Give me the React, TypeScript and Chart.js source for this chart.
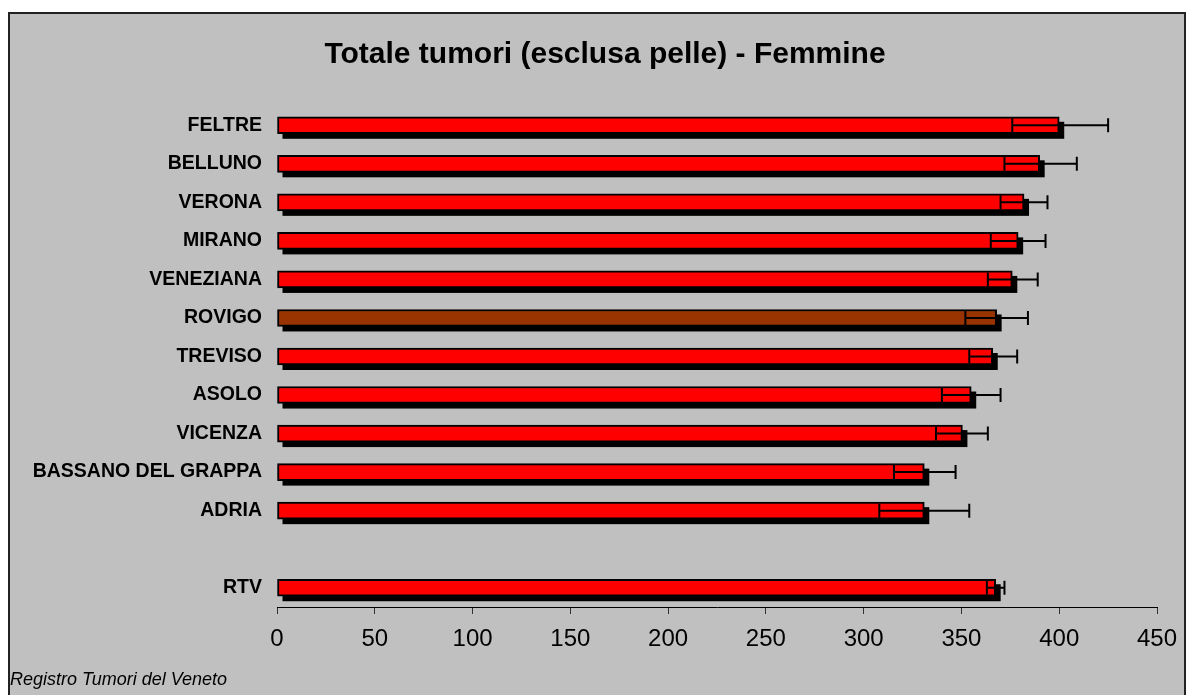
import React, { useEffect, useRef } from "react";
import { Chart, registerables } from "chart.js";

Chart.register(...registerables);

const categories = [
  "FELTRE",
  "BELLUNO",
  "VERONA",
  "MIRANO",
  "VENEZIANA",
  "ROVIGO",
  "TREVISO",
  "ASOLO",
  "VICENZA",
  "BASSANO DEL GRAPPA",
  "ADRIA",
  "",
  "RTV",
];
const rates = [400, 390, 382, 379, 376, 368, 366, 355, 350.5, 331, 331, null, 367.5];
const lowerCI = [376, 372, 370, 365, 363.5, 352, 354, 340, 337, 315.5, 308, null, 363];
const upperCI = [425, 409, 394, 393, 389, 384, 378.5, 370, 363.5, 347, 354, null, 372];
const barColors = [
  "#FF0000", "#FF0000", "#FF0000", "#FF0000", "#FF0000", "#993300",
  "#FF0000", "#FF0000", "#FF0000", "#FF0000", "#FF0000", "#FF0000", "#FF0000",
];
const xTicks = [0, 50, 100, 150, 200, 250, 300, 350, 400, 450];
const titleText = "Totale tumori (esclusa pelle) - Femmine";
const footerText = "Registro Tumori del Veneto";

const FONT = '"Liberation Sans", Arial, sans-serif';

const shadowPlugin = {
  id: "barShadow",
  beforeDatasetDraw(chart: any, args: any) {
    const ctx = chart.ctx;
    const meta = args.meta;
    ctx.save();
    ctx.fillStyle = "#000000";
    const off = 5;
    meta.data.forEach((el: any, i: number) => {
      if (rates[i] == null) return;
      const p = el.getProps(["x", "y", "base", "height"], true);
      const left = Math.min(p.base, p.x);
      const right = Math.max(p.base, p.x);
      ctx.fillRect(left + off, p.y - p.height / 2 + off, right - left, p.height);
    });
    ctx.restore();
  },
};

const errorBarPlugin = {
  id: "errorBars",
  afterDatasetsDraw(chart: any) {
    const ctx = chart.ctx;
    const xs = chart.scales.x;
    const ys = chart.scales.y;
    ctx.save();
    ctx.strokeStyle = "#000000";
    ctx.lineWidth = 2;
    for (let i = 0; i < categories.length; i++) {
      const lo = lowerCI[i];
      const hi = upperCI[i];
      if (lo == null || hi == null) continue;
      const y = ys.getPixelForValue(i);
      const xl = xs.getPixelForValue(lo);
      const xh = xs.getPixelForValue(hi);
      const h = 7;
      ctx.beginPath();
      ctx.moveTo(xl, y);
      ctx.lineTo(xh, y);
      ctx.moveTo(xl, y - h);
      ctx.lineTo(xl, y + h);
      ctx.moveTo(xh, y - h);
      ctx.lineTo(xh, y + h);
      ctx.stroke();
    }
    ctx.restore();
  },
};

const textPlugin = {
  id: "texts",
  afterDraw(chart: any) {
    const ctx = chart.ctx;
    ctx.save();
    ctx.fillStyle = "#000000";
    ctx.textAlign = "center";
    ctx.textBaseline = "middle";
    ctx.font = `bold 30px ${FONT}`;
    ctx.fillText(titleText, 595, 41);
    ctx.textAlign = "left";
    ctx.font = `italic 18px ${FONT}`;
    ctx.fillText(footerText, 0, 666);
    ctx.restore();
  },
};

export default function App() {
  const canvasRef = useRef<HTMLCanvasElement | null>(null);

  useEffect(() => {
    document.documentElement.style.overflow = "hidden";
    const canvas = canvasRef.current;
    if (!canvas) return;
    const chart = new Chart(canvas, {
      type: "bar",
      data: {
        labels: categories,
        datasets: [
          {
            data: rates as any,
            backgroundColor: barColors,
            borderColor: "#000000",
            borderWidth: 2,
            borderSkipped: false,
            barThickness: 17,
          },
        ],
      },
      options: {
        indexAxis: "y",
        responsive: false,
        animation: false,
        layout: { padding: { top: 92, right: 27, left: 0, bottom: 0 } },
        plugins: {
          legend: { display: false },
          title: { display: false },
          tooltip: { enabled: false },
        },
        scales: {
          x: {
            min: 0,
            max: 450,
            afterFit(scale: any) {
              scale.height = 88;
              scale.paddingLeft = 0;
              scale.paddingRight = 0;
            },
            afterBuildTicks(scale: any) {
              scale.ticks = xTicks.map((v) => ({ value: v }));
            },
            grid: {
              display: true,
              drawOnChartArea: false,
              drawTicks: true,
              tickLength: 7,
              color: "#333333",
              lineWidth: 1,
            },
            border: { display: true, color: "#000000", width: 1 },
            ticks: {
              color: "#000000",
              padding: 11,
              maxRotation: 0,
              font: { family: FONT, size: 24 },
            },
          },
          y: {
            afterFit(scale: any) {
              scale.width = 267;
              scale.paddingTop = 0;
              scale.paddingBottom = 0;
            },
            grid: { display: false, drawTicks: false },
            border: { display: false },
            ticks: {
              color: "#000000",
              padding: 15,
              autoSkip: false,
              font: { family: FONT, size: 19.5, weight: "bold" },
            },
          },
        },
      },
      plugins: [shadowPlugin, errorBarPlugin, textPlugin],
    });
    return () => chart.destroy();
  }, []);

  return (
    <div
      style={{
        position: "absolute",
        left: 8,
        top: 12,
        width: 1178,
        height: 683,
        boxSizing: "border-box",
        border: "2px solid #222222",
        borderBottom: "none",
        background: "#C0C0C0",
      }}
    >
      <canvas ref={canvasRef} width={1174} height={681} style={{ display: "block" }} />
    </div>
  );
}
